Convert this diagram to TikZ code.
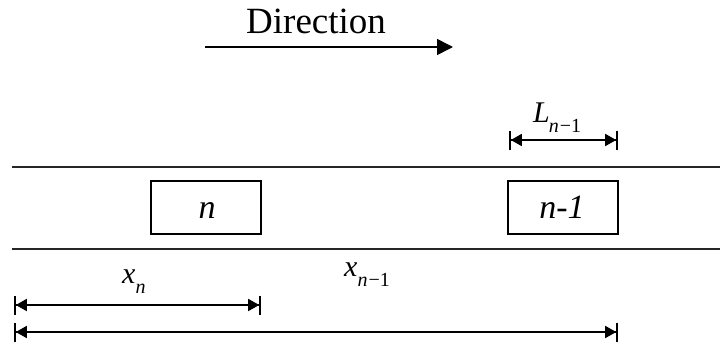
\documentclass[tikz,border=0pt]{standalone}
\usepackage{fontspec}
\setmainfont{Liberation Serif}
\usetikzlibrary{arrows.meta}
\tikzset{
  road/.style={line width=2pt, draw=black!85},
  car/.style={draw, line width=2pt, minimum width=110pt, minimum height=53pt, inner sep=0pt},
  carlab/.style={inner sep=0pt, font=\fontsize{34}{34}\selectfont\itshape},
  dimline/.style={line width=1.6pt, {Bar[width=19pt,line width=1.8pt]Triangle[length=11pt,width=12pt,sep=0pt]}-{Triangle[length=11pt,width=12pt,sep=0pt]Bar[width=19pt,line width=1.8pt]}},
  dirarrow/.style={line width=1.6pt, -{Triangle[length=16pt,width=16pt]}},
  lab/.style={inner sep=0pt, font=\fontsize{30}{30}\selectfont},
}
\newcommand{\subsc}[1]{\raisebox{-0.36em}{\fontsize{20}{20}\selectfont #1}}
\begin{document}
\begin{tikzpicture}[x=1pt,y=-1pt]
\useasboundingbox (0,0) rectangle (720,343);
% direction
\node[inner sep=0pt, anchor=base west, font=\fontsize{37}{37}\selectfont] (dir) at (246,33) {Direction};
\coordinate (d1) at (205,47);
\coordinate (d2) at (453,47);
\draw[dirarrow] (d1) -- (d2);
% road
\coordinate (r1a) at (12,167); \coordinate (r1b) at (720,167);
\coordinate (r2a) at (12,249); \coordinate (r2b) at (720,249);
\draw[road] (r1a) -- (r1b);
\draw[road] (r2a) -- (r2b);
% cars
\node[car] (cn) at (206,207.5) {};
\node[car] (cn1) at (563,207.5) {};
\node[carlab, anchor=base] (tn) at (207,218) {n};
\node[carlab, anchor=base] (tn1) at (562,218) {n-1};
% L dimension
\coordinate (l1) at (509,140);
\coordinate (l2) at (618,140);
\draw[dimline] (l1) -- (l2);
\node[lab, anchor=base west] (ll) at (533,122) {\textit{L}\kern-1pt\subsc{\textit{n}\kern1pt−1}};
% x_n
\coordinate (xa1) at (14,305);
\coordinate (xa2) at (261,305);
\draw[dimline] (xa1) -- (xa2);
\node[lab, anchor=base west] (xl) at (122,283) {\textit{x}\subsc{\textit{n}}};
% x_{n-1}
\coordinate (xb1) at (14,332);
\coordinate (xb2) at (618,332);
\draw[dimline] (xb1) -- (xb2);
\node[lab, anchor=base west] (xl1) at (344,276) {\textit{x}\subsc{\textit{n}\kern1pt−1}};
\end{tikzpicture}
\end{document}
